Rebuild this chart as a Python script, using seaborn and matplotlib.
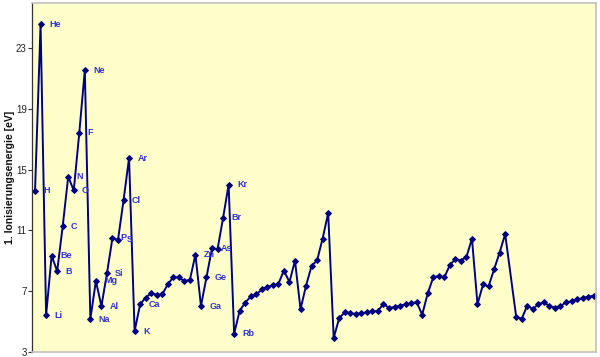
import numpy as np
import pandas as pd
import matplotlib
matplotlib.use("Agg")
import matplotlib.pyplot as plt
import seaborn as sns

# Atomic numbers 1..102 (Fr = 87 has no value in the chart)
atomic_numbers = list(range(1, 103))
symbols = ["H", "He", "Li", "Be", "B", "C", "N", "O", "F", "Ne",
           "Na", "Mg", "Al", "Si", "P", "S", "Cl", "Ar", "K", "Ca",
           "Sc", "Ti", "V", "Cr", "Mn", "Fe", "Co", "Ni", "Cu", "Zn",
           "Ga", "Ge", "As", "Se", "Br", "Kr", "Rb", "Sr", "Y", "Zr",
           "Nb", "Mo", "Tc", "Ru", "Rh", "Pd", "Ag", "Cd", "In", "Sn",
           "Sb", "Te", "I", "Xe", "Cs", "Ba", "La", "Ce", "Pr", "Nd",
           "Pm", "Sm", "Eu", "Gd", "Tb", "Dy", "Ho", "Er", "Tm", "Yb",
           "Lu", "Hf", "Ta", "W", "Re", "Os", "Ir", "Pt", "Au", "Hg",
           "Tl", "Pb", "Bi", "Po", "At", "Rn", "Fr", "Ra", "Ac", "Th",
           "Pa", "U", "Np", "Pu", "Am", "Cm", "Bk", "Cf", "Es", "Fm",
           "Md", "No"]
energies = [13.60, 24.59, 5.39, 9.32, 8.30, 11.26, 14.53, 13.62, 17.42, 21.56,
            5.14, 7.65, 5.99, 8.15, 10.49, 10.36, 12.97, 15.76, 4.34, 6.11,
            6.56, 6.83, 6.75, 6.77, 7.43, 7.90, 7.88, 7.64, 7.73, 9.39,
            6.00, 7.90, 9.81, 9.75, 11.81, 14.00, 4.18, 5.69, 6.22, 6.63,
            6.76, 7.09, 7.28, 7.36, 7.46, 8.34, 7.58, 8.99, 5.79, 7.34,
            8.64, 9.01, 10.45, 12.13, 3.89, 5.21, 5.58, 5.54, 5.47, 5.53,
            5.58, 5.64, 5.67, 6.15, 5.86, 5.94, 6.02, 6.11, 6.18, 6.25,
            5.43, 6.83, 7.89, 7.98, 7.88, 8.70, 9.10, 9.00, 9.23, 10.44,
            6.11, 7.42, 7.29, 8.42, 9.52, 10.75, np.nan, 5.28, 5.17, 6.02,
            5.80, 6.12, 6.26, 5.99, 5.90, 5.99, 6.25, 6.30, 6.43, 6.52,
            6.61, 6.68]
labelled = ["H", "He", "Li", "Be", "B", "C", "N", "O", "F", "Ne",
            "Na", "Mg", "Al", "Si", "P", "S", "Cl", "Ar", "K", "Ca",
            "Zn", "Ga", "Ge", "As", "Br", "Kr", "Rb"]
y_ticks = [3, 7, 11, 15, 19, 23]

df = pd.DataFrame({"Z": atomic_numbers, "sym": symbols, "E": energies}).dropna()

sns.set_theme(style="white")
plt.rcParams["font.family"] = ["Liberation Sans", "DejaVu Sans"]

fig = plt.figure(figsize=(6.0, 3.57), dpi=100)
ax = fig.add_axes([0.0538, 0.0154, 0.9402, 0.977])
ax.set_facecolor("#FFFFCC")

sns.lineplot(data=df, x="Z", y="E", ax=ax, color="#000080", linewidth=1.4,
             marker="D", markersize=3.0, markeredgecolor="#000080",
             markerfacecolor="#000080", sort=False)

for _, r in df.iterrows():
    if r["sym"] in labelled:
        ax.annotate(r["sym"], (r["Z"], r["E"]), xytext=(6, 0),
                    textcoords="offset points", ha="left", va="center",
                    fontsize=6.5, fontweight="bold", color="#3333CC")

ax.set_xlim(0.5, 102.5)
ax.set_ylim(3, 26)
ax.set_yticks(y_ticks)
ax.set_yticklabels([str(t) for t in y_ticks], fontsize=7, color="#222222")
ax.set_xticks([])
ax.set_xlabel("")
ax.set_ylabel("1. Ionisierungsenergie [eV]", fontsize=7.5, fontweight="bold",
              color="#111111")
ax.yaxis.set_label_coords(-0.031, 0.5)
ax.tick_params(axis="y", direction="out", length=3, width=0.8, pad=1,
               left=True, color="#333333")
for s in ["top", "right", "bottom"]:
    ax.spines[s].set_color("#C0C0C0")
    ax.spines[s].set_linewidth(1.2)
ax.spines["left"].set_color("#333333")
ax.spines["left"].set_linewidth(0.9)

fig.savefig("out.png", dpi=100, facecolor="white")
